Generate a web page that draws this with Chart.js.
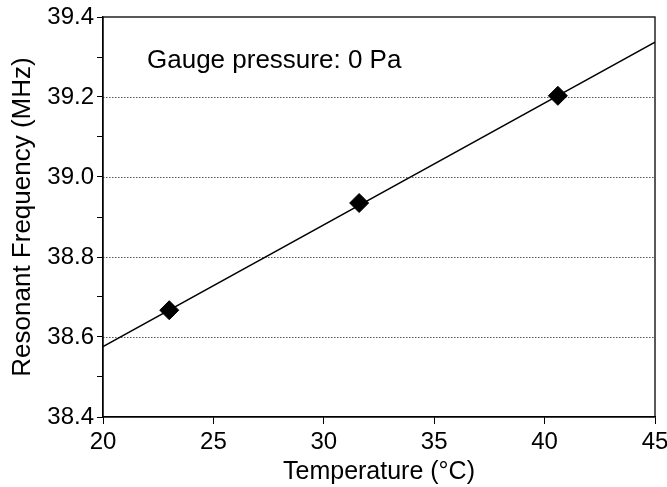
<!DOCTYPE html>
<html>
<head>
<meta charset="utf-8">
<script src="https://cdn.jsdelivr.net/npm/chart.js@4"></script>
<style>
  html, body { margin: 0; padding: 0; background: #fff; }
  #wrap { width: 667px; height: 487px; }
</style>
</head>
<body>
<div id="wrap"><canvas id="chart" width="667" height="487"></canvas></div>
<script>
// measured points
const temps = [23.0, 31.6, 40.6];
const freqs = [38.667, 38.935, 39.203];
// linear fit, read at the plot edges
const fitX = [20, 45];
const fitY = [38.576, 39.337];
const gridVals = [38.6, 38.8, 39.0, 39.2];
const note = 'Gauge pressure: 0 Pa';

const FONT = '"Liberation Sans", Arial, sans-serif';

// frame + dotted grid + label
const framePlugin = {
  id: 'frame',
  beforeDatasetsDraw(chart){
    const {ctx, chartArea: a, scales} = chart;
    ctx.save();
    ctx.strokeStyle = '#555';
    ctx.lineWidth = 1;
    ctx.setLineDash([1.5, 1.5]);
    gridVals.forEach(v => {
      const y = Math.round(scales.y.getPixelForValue(v)) + 0.5;
      ctx.beginPath(); ctx.moveTo(a.left, y); ctx.lineTo(a.right, y); ctx.stroke();
    });
    ctx.setLineDash([]);
    ctx.strokeStyle = '#000';
    ctx.lineWidth = 1.3;
    ctx.strokeRect(a.left, a.top, a.right - a.left, a.bottom - a.top);
    ctx.fillStyle = '#000';
    ctx.font = '26px ' + FONT;
    ctx.textBaseline = 'alphabetic';
    ctx.fillText(note, a.left + 44, a.top + 51);
    ctx.restore();
  }
};

new Chart(el('chart'), {
  type: 'scatter',
  data: {
    datasets: [
      {
        type: 'line',
        data: fitX.map((x, i) => ({x, y: fitY[i]})),
        borderColor: '#000', borderWidth: 1.4,
        pointRadius: 0, fill: false, tension: 0
      },
      {
        data: temps.map((x, i) => ({x, y: freqs[i]})),
        pointStyle: 'rectRot', pointRadius: 9.5,
        backgroundColor: '#000', borderColor: '#000', borderWidth: 1
      }
    ]
  },
  options: {
    responsive: false,
    animation: false,
    layout: { padding: { top: 17, right: 12, left: 0, bottom: 0 } },
    plugins: { legend: { display: false }, tooltip: { enabled: false } },
    scales: {
      x: {
        type: 'linear', min: 20, max: 45,
        afterFit: s => { s.height = 70; s.paddingLeft = 0; s.paddingRight = 0; },
        ticks: { stepSize: 5, color: '#000', font: { family: FONT, size: 24 }, padding: 4, maxRotation: 0 },
        grid: { drawOnChartArea: false, drawTicks: true, tickLength: 7, tickColor: '#000' },
        border: { color: '#000', width: 1.3 },
        title: { display: true, text: 'Temperature (°C)', color: '#000', font: { family: FONT, size: 25 }, padding: 0 }
      },
      y: {
        type: 'linear', min: 38.4, max: 39.4,
        afterFit: s => { s.width = 103; s.paddingTop = 0; s.paddingBottom = 0; },
        ticks: {
          stepSize: 0.1, color: '#000', font: { family: FONT, size: 24 }, padding: 3,
          callback: v => (Math.round(v * 10) % 2 === 0) ? v.toFixed(1) : ''
        },
        grid: { drawOnChartArea: false, drawTicks: true, tickLength: 6, tickColor: '#000' },
        border: { color: '#000', width: 1.3 },
        title: { display: true, text: 'Resonant Frequency (MHz)', color: '#000', font: { family: FONT, size: 26 }, padding: { top: 7, bottom: 0 } }
      }
    }
  },
  plugins: [framePlugin]
});

function el(id){ return document.getElementById(id); }
</script>
</body>
</html>
